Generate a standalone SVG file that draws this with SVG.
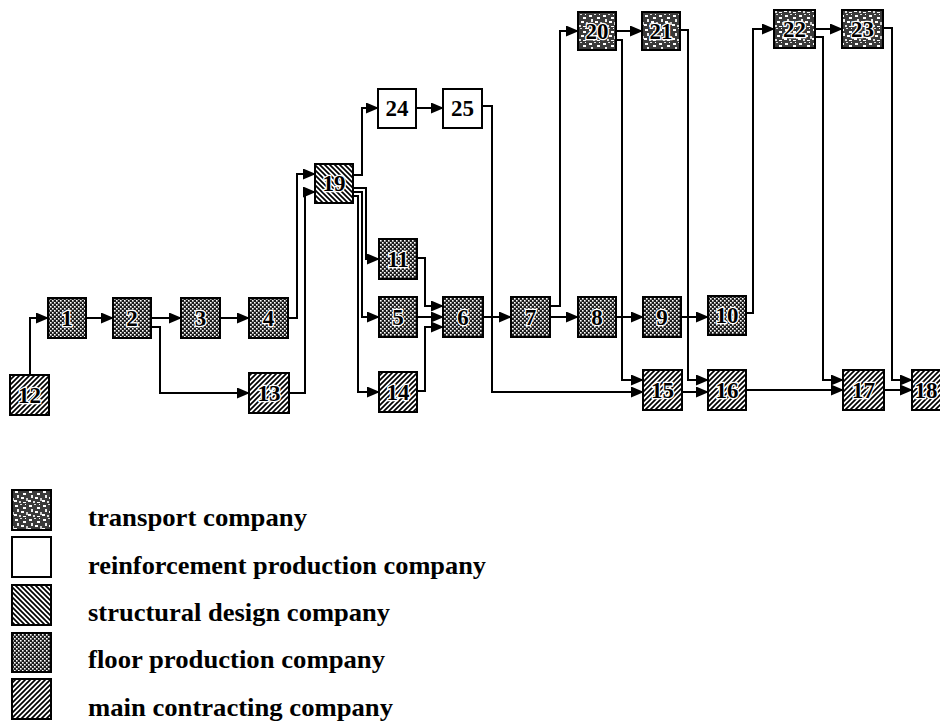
<svg xmlns="http://www.w3.org/2000/svg" width="940" height="724" viewBox="0 0 940 724">
<style>
  .box { stroke: #000; stroke-width: 2; }
  .lbl { font-family: "Liberation Serif", "Times New Roman", serif; font-weight: bold; font-size: 23px; text-anchor: middle; fill: #000; stroke: #fff; stroke-width: 2.5; paint-order: stroke fill; }
  .plain { stroke: none; }
  .edge { fill: none; stroke: #000; stroke-width: 2; marker-end: url(#arr); }
  .leg { font-family: "Liberation Serif", "Times New Roman", serif; font-weight: bold; font-size: 25px; fill: #000; }
</style>
<defs>
  <marker id="arr" markerUnits="userSpaceOnUse" markerWidth="13" markerHeight="11" refX="12" refY="5.5" orient="auto">
    <path d="M0,0 L13,5.5 L0,11 Z" fill="#000"/>
  </marker>
  <pattern id="floor" width="4" height="4" patternUnits="userSpaceOnUse">
    <rect width="4" height="4" fill="#1c1c1c"/>
    <rect x="0" y="0" width="1.6" height="1.6" fill="#fff"/>
    <rect x="2" y="2" width="1.6" height="1.6" fill="#fff"/>
  </pattern>
  <pattern id="main" width="5" height="5" patternUnits="userSpaceOnUse">
    <rect width="5" height="5" fill="#fff"/>
    <path d="M-1,1 L1,-1 M0,5 L5,0 M4,6 L6,4" stroke="#000" stroke-width="1.7"/>
  </pattern>
  <pattern id="struct" width="5" height="5" patternUnits="userSpaceOnUse">
    <rect width="5" height="5" fill="#fff"/>
    <path d="M-1,4 L1,6 M0,0 L5,5 M4,-1 L6,1" stroke="#000" stroke-width="1.7"/>
  </pattern>
  <pattern id="transport" width="14" height="14" patternUnits="userSpaceOnUse">
    <rect width="14" height="14" fill="#3a3a3a"/>
    <rect x="1" y="1" width="3" height="2" fill="#fff"/>
    <rect x="6" y="0" width="2" height="1" fill="#ddd"/>
    <rect x="9" y="3" width="3" height="2" fill="#fff"/>
    <rect x="3" y="5" width="2" height="3" fill="#eee"/>
    <rect x="7" y="7" width="3" height="2" fill="#fff"/>
    <rect x="12" y="8" width="2" height="3" fill="#ccc"/>
    <rect x="0" y="10" width="3" height="2" fill="#fff"/>
    <rect x="5" y="11" width="2" height="2" fill="#ddd"/>
    <rect x="9" y="12" width="3" height="1" fill="#fff"/>
    <rect x="11" y="0" width="1" height="1" fill="#fff"/>
  </pattern>
</defs>

<g id="connectors">
  <path class="edge" d="M30,375 V318 H48"/>
  <path class="edge" d="M86,318 H113"/>
  <path class="edge" d="M151,318 H181"/>
  <path class="edge" d="M220,318 H249"/>
  <path class="edge" d="M151,327 H160 V393 H249"/>
  <path class="edge" d="M288,318 H297 V174 H315"/>
  <path class="edge" d="M289,393 H305 V192 H315"/>
  <path class="edge" d="M353,175 H362 V108 H378"/>
  <path class="edge" d="M416,108 H443"/>
  <path class="edge" d="M353,188 H366 V259 H379"/>
  <path class="edge" d="M353,192 H362 V317 H379"/>
  <path class="edge" d="M353,196 H358 V392 H379"/>
  <path class="edge" d="M417,258 H425 V306 H443"/>
  <path class="edge" d="M417,317 H443"/>
  <path class="edge" d="M417,391 H425 V327 H443"/>
  <path class="edge" d="M483,317 H511"/>
  <path class="edge" d="M482,106 H492 V392 H643"/>
  <path class="edge" d="M550,306 H560 V31 H578"/>
  <path class="edge" d="M550,317 H578"/>
  <path class="edge" d="M616,317 H643"/>
  <path class="edge" d="M681,317 H708"/>
  <path class="edge" d="M616,31 H642"/>
  <path class="edge" d="M616,40 H622 V380 H643"/>
  <path class="edge" d="M680,30 H688 V380 H708"/>
  <path class="edge" d="M682,392 H708"/>
  <path class="edge" d="M746,313 H753 V29 H774"/>
  <path class="edge" d="M815,29 H842"/>
  <path class="edge" d="M815,37 H823 V380 H843"/>
  <path class="edge" d="M883,28 H892 V380 H912"/>
  <path class="edge" d="M746,390 H843"/>
  <path class="edge" d="M884,390 H912"/>
</g>

<g id="n12"><rect class="box" x="10" y="375" width="39" height="40" fill="url(#main)"/><text class="lbl" x="29.5" y="403">12</text></g>
<g id="n1"><rect class="box" x="48" y="298" width="38" height="40" fill="url(#floor)"/><text class="lbl" x="67" y="326">1</text></g>
<g id="n2"><rect class="box" x="113" y="298" width="38" height="40" fill="url(#floor)"/><text class="lbl" x="132" y="326">2</text></g>
<g id="n3"><rect class="box" x="181" y="298" width="39" height="40" fill="url(#floor)"/><text class="lbl" x="200.5" y="326">3</text></g>
<g id="n4"><rect class="box" x="249" y="298" width="39" height="40" fill="url(#floor)"/><text class="lbl" x="268.5" y="326">4</text></g>
<g id="n13"><rect class="box" x="249" y="373" width="40" height="40" fill="url(#main)"/><text class="lbl" x="269" y="401">13</text></g>
<g id="n19"><rect class="box" x="315" y="164" width="38" height="39" fill="url(#struct)"/><text class="lbl" x="334" y="191">19</text></g>
<g id="n24"><rect class="box" x="378" y="89" width="38" height="39" fill="#fff"/><text class="lbl plain" x="397" y="116">24</text></g>
<g id="n25"><rect class="box" x="443" y="89" width="39" height="39" fill="#fff"/><text class="lbl plain" x="462.5" y="116">25</text></g>
<g id="n11"><rect class="box" x="379" y="239" width="38" height="40" fill="url(#floor)"/><text class="lbl" x="398" y="267">11</text></g>
<g id="n5"><rect class="box" x="379" y="297" width="38" height="40" fill="url(#floor)"/><text class="lbl" x="398" y="325">5</text></g>
<g id="n14"><rect class="box" x="379" y="372" width="38" height="40" fill="url(#main)"/><text class="lbl" x="398" y="400">14</text></g>
<g id="n6"><rect class="box" x="443" y="297" width="40" height="40" fill="url(#floor)"/><text class="lbl" x="463" y="325">6</text></g>
<g id="n7"><rect class="box" x="511" y="297" width="39" height="40" fill="url(#floor)"/><text class="lbl" x="530.5" y="325">7</text></g>
<g id="n8"><rect class="box" x="578" y="297" width="38" height="40" fill="url(#floor)"/><text class="lbl" x="597" y="325">8</text></g>
<g id="n9"><rect class="box" x="643" y="297" width="38" height="40" fill="url(#floor)"/><text class="lbl" x="662" y="325">9</text></g>
<g id="n10"><rect class="box" x="708" y="296" width="38" height="39" fill="url(#floor)"/><text class="lbl" x="727" y="323">10</text></g>
<g id="n20"><rect class="box" x="578" y="12" width="38" height="38" fill="url(#transport)"/><text class="lbl" x="597" y="39">20</text></g>
<g id="n21"><rect class="box" x="642" y="12" width="38" height="38" fill="url(#transport)"/><text class="lbl" x="661" y="39">21</text></g>
<g id="n22"><rect class="box" x="774" y="10" width="41" height="38" fill="url(#transport)"/><text class="lbl" x="794.5" y="37">22</text></g>
<g id="n23"><rect class="box" x="842" y="10" width="41" height="38" fill="url(#transport)"/><text class="lbl" x="862.5" y="37">23</text></g>
<g id="n15"><rect class="box" x="643" y="370" width="39" height="40" fill="url(#main)"/><text class="lbl" x="662.5" y="398">15</text></g>
<g id="n16"><rect class="box" x="708" y="370" width="38" height="40" fill="url(#main)"/><text class="lbl" x="727" y="398">16</text></g>
<g id="n17"><rect class="box" x="843" y="370" width="41" height="40" fill="url(#main)"/><text class="lbl" x="863.5" y="398">17</text></g>
<g id="n18"><rect class="box" x="912" y="370" width="40" height="40" fill="url(#main)"/><text class="lbl" x="926" y="398">18</text></g>

<g id="legend">
  <rect class="box" x="12" y="490" width="39" height="40" fill="url(#transport)"/>
  <rect class="box" x="12" y="537" width="39" height="40" fill="#fff"/>
  <rect class="box" x="12" y="585" width="39" height="40" fill="url(#struct)"/>
  <rect class="box" x="12" y="633" width="39" height="39" fill="url(#floor)"/>
  <rect class="box" x="12" y="679" width="39" height="40" fill="url(#main)"/>
  <text class="leg" x="88" y="526" textLength="219" lengthAdjust="spacingAndGlyphs">transport company</text>
  <text class="leg" x="88" y="574" textLength="398" lengthAdjust="spacingAndGlyphs">reinforcement production company</text>
  <text class="leg" x="88" y="621" textLength="302" lengthAdjust="spacingAndGlyphs">structural design company</text>
  <text class="leg" x="88" y="668" textLength="297" lengthAdjust="spacingAndGlyphs">floor production company</text>
  <text class="leg" x="88" y="716" textLength="305" lengthAdjust="spacingAndGlyphs">main contracting company</text>
</g>
</svg>
